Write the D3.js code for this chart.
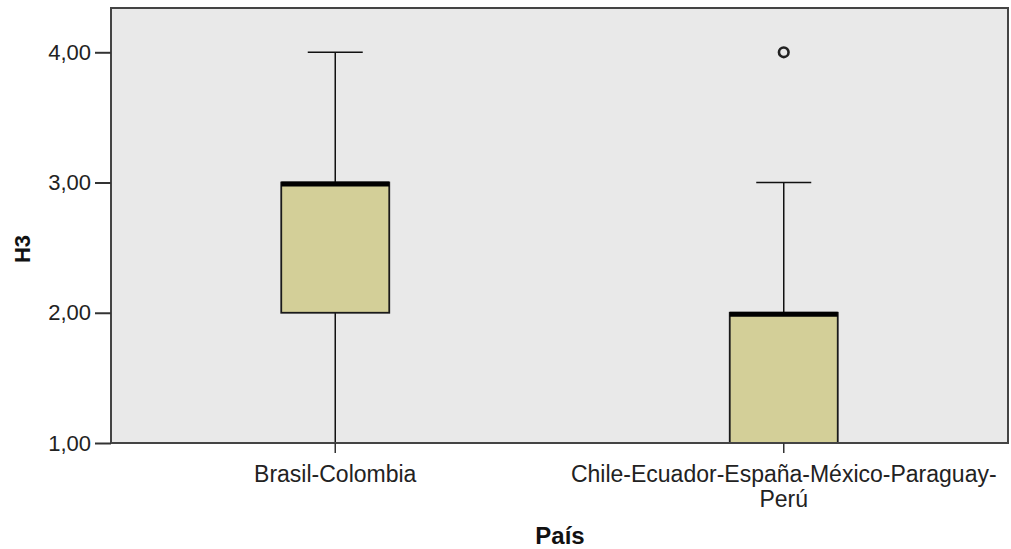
<!DOCTYPE html>
<html>
<head>
<meta charset="utf-8">
<script src="https://cdn.jsdelivr.net/npm/d3@7"></script>
<style>
  html, body { margin: 0; padding: 0; background: #fff; }
  svg { display: block; font-family: "Liberation Sans", Arial, sans-serif; }
</style>
</head>
<body>
<svg id="chart" width="1011" height="549"></svg>
<script>
// Groups and their five-number summaries (H3 by País)
const categories = ["Brasil-Colombia", "Chile-Ecuador-España-México-Paraguay-Perú"];
const categoryLines = [["Brasil-Colombia"], ["Chile-Ecuador-España-México-Paraguay-", "Perú"]];
const whiskerLow = [1, 1];
const q1 = [2, 1];
const median = [3, 2];
const q3 = [3, 2];
const whiskerHigh = [4, 3];
const outliers = [[], [4]];
const yTicks = [1, 2, 3, 4];

const svg = d3.select("#chart");
const margin = { left: 111, top: 8, right: 1008, bottom: 443 };

const x = d3.scaleBand().domain(categories).range([margin.left, margin.right]);
const y = d3.scaleLinear().domain([1, 4.34]).range([margin.bottom, margin.top]);

const fmt = d => d3.format(".2f")(d).replace(".", ",");

// plot area
svg.append("rect")
  .attr("x", margin.left).attr("y", margin.top)
  .attr("width", margin.right - margin.left).attr("height", margin.bottom - margin.top)
  .attr("fill", "#e9e9e9");

const boxW = 108;
const capW = 55;

const groups = svg.append("g").selectAll("g")
  .data(categories.map((c, i) => ({ c, i })))
  .join("g")
  .attr("transform", d => `translate(${x(d.c) + x.bandwidth() / 2},0)`);

// whiskers
groups.append("line")
  .attr("x1", 0).attr("x2", 0)
  .attr("y1", d => y(whiskerLow[d.i])).attr("y2", d => y(whiskerHigh[d.i]))
  .attr("stroke", "#111").attr("stroke-width", 1.5);
groups.append("line")
  .attr("x1", -capW / 2).attr("x2", capW / 2)
  .attr("y1", d => y(whiskerHigh[d.i])).attr("y2", d => y(whiskerHigh[d.i]))
  .attr("stroke", "#111").attr("stroke-width", 1.5);
groups.append("line")
  .attr("x1", -capW / 2).attr("x2", capW / 2)
  .attr("y1", d => y(whiskerLow[d.i])).attr("y2", d => y(whiskerLow[d.i]))
  .attr("stroke", "#111").attr("stroke-width", 1.5);

// boxes
groups.append("rect")
  .attr("x", -boxW / 2).attr("width", boxW)
  .attr("y", d => y(q3[d.i])).attr("height", d => y(q1[d.i]) - y(q3[d.i]))
  .attr("fill", "#d3cf98").attr("stroke", "#1a1a1a").attr("stroke-width", 1.8);

// medians
groups.append("line")
  .attr("x1", -boxW / 2).attr("x2", boxW / 2)
  .attr("y1", d => y(median[d.i]) + 1.5).attr("y2", d => y(median[d.i]) + 1.5)
  .attr("stroke", "#000").attr("stroke-width", 5);

// outliers
groups.selectAll("circle")
  .data(d => outliers[d.i])
  .join("circle")
  .attr("cx", 0).attr("cy", v => y(v)).attr("r", 4.8)
  .attr("fill", "none").attr("stroke", "#222").attr("stroke-width", 2.6);

// frame
svg.append("rect")
  .attr("x", margin.left).attr("y", margin.top)
  .attr("width", margin.right - margin.left).attr("height", margin.bottom - margin.top)
  .attr("fill", "none").attr("stroke", "#444").attr("stroke-width", 2);

// y axis
const yAxis = svg.append("g")
  .attr("transform", `translate(${margin.left},0)`)
  .call(d3.axisLeft(y).tickValues(yTicks).tickFormat(fmt).tickSize(16).tickPadding(4));
yAxis.select(".domain").remove();
yAxis.selectAll(".tick line").attr("stroke", "#333").attr("stroke-width", 2);
yAxis.selectAll(".tick text").attr("font-size", 22).attr("fill", "#222")
  .attr("font-family", "Liberation Sans, Arial, sans-serif");

// x axis
const xAxis = svg.append("g")
  .attr("transform", `translate(0,${margin.bottom})`)
  .call(d3.axisBottom(x).tickSize(10).tickFormat(""));
xAxis.select(".domain").remove();
xAxis.selectAll(".tick line").attr("stroke", "#333").attr("stroke-width", 1.5);

// category labels (wrapped)
categories.forEach((c, i) => {
  const t = svg.append("text")
    .attr("x", x(c) + x.bandwidth() / 2)
    .attr("y", 482)
    .attr("text-anchor", "middle")
    .attr("font-size", 23).attr("fill", "#222");
  categoryLines[i].forEach((line, j) => {
    t.append("tspan").attr("x", x(c) + x.bandwidth() / 2).attr("dy", j === 0 ? 0 : 25).text(line);
  });
});

// axis titles
svg.append("text")
  .attr("x", 560).attr("y", 544)
  .attr("text-anchor", "middle")
  .attr("font-size", 24).attr("font-weight", "bold").attr("fill", "#111")
  .text("País");

svg.append("text")
  .attr("transform", "translate(30,249) rotate(-90)")
  .attr("text-anchor", "middle")
  .attr("font-size", 22).attr("font-weight", "bold").attr("fill", "#111")
  .text("H3");
</script>
</body>
</html>
